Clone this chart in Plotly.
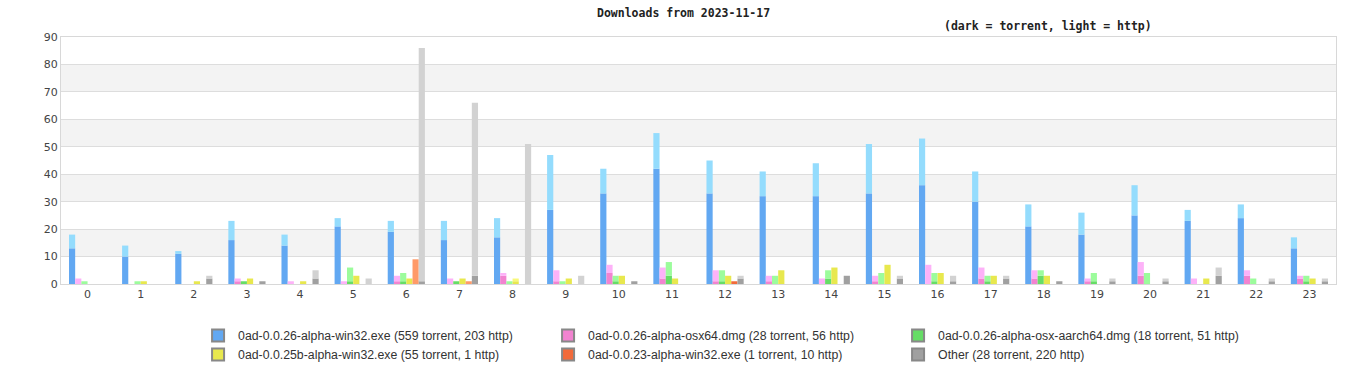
import plotly.graph_objects as go

hours = list(range(24))

files = [
    "0ad-0.0.26-alpha-win32.exe",
    "0ad-0.0.26-alpha-osx64.dmg",
    "0ad-0.0.26-alpha-osx-aarch64.dmg",
    "0ad-0.0.25b-alpha-win32.exe",
    "0ad-0.0.23-alpha-win32.exe",
    "Other",
]

win32_torrent = [13, 10, 11, 16, 14, 21, 19, 16, 17, 27, 33, 42, 33, 32, 32, 33, 36, 30, 21, 18, 25, 23, 24, 13]
win32_total   = [18, 14, 12, 23, 18, 24, 23, 23, 24, 47, 42, 55, 45, 41, 44, 51, 53, 41, 29, 26, 36, 27, 29, 17]

osx64_torrent = [0, 0, 0, 1, 0, 0, 1, 0, 3, 1, 4, 2, 1, 1, 0, 1, 0, 2, 2, 1, 3, 0, 3, 2]
osx64_total   = [2, 0, 0, 2, 1, 1, 3, 2, 4, 5, 7, 6, 5, 3, 2, 3, 7, 6, 5, 2, 8, 2, 5, 3]

aarch64_torrent = [0, 0, 0, 1, 0, 1, 1, 1, 0, 0, 1, 3, 1, 0, 2, 0, 1, 1, 3, 1, 0, 0, 0, 1]
aarch64_total   = [1, 1, 0, 1, 0, 6, 4, 1, 1, 1, 3, 8, 5, 3, 5, 4, 4, 3, 5, 4, 4, 0, 2, 3]

a25b_torrent = [0, 1, 1, 2, 1, 3, 2, 2, 1, 2, 3, 2, 3, 5, 6, 7, 4, 3, 3, 0, 0, 2, 0, 2]
a25b_total   = [0, 1, 1, 2, 1, 3, 2, 2, 2, 2, 3, 2, 3, 5, 6, 7, 4, 3, 3, 0, 0, 2, 0, 2]

a23_torrent = [0, 0, 0, 0, 0, 0, 0, 0, 0, 0, 0, 0, 1, 0, 0, 0, 0, 0, 0, 0, 0, 0, 0, 0]
a23_total   = [0, 0, 0, 0, 0, 0, 9, 1, 0, 0, 0, 0, 1, 0, 0, 0, 0, 0, 0, 0, 0, 0, 0, 0]

other_torrent = [0, 0, 2, 1, 2, 0, 1, 3, 0, 0, 1, 0, 2, 0, 3, 2, 1, 2, 1, 1, 1, 3, 1, 1]
other_total   = [0, 0, 3, 1, 5, 2, 86, 66, 51, 3, 1, 0, 3, 0, 3, 3, 3, 3, 1, 2, 2, 6, 2, 2]

torrent_counts = [559, 28, 18, 55, 1, 28]
http_counts = [203, 56, 51, 1, 10, 220]

title_text = "Downloads from 2023-11-17"
subtitle_text = "(dark = torrent, light = http)"

dark_colors = ["#62a8f2", "#f283d0", "#66dd66", "#e8e84e", "#f26a3a", "#a0a0a0"]
light_colors = ["#94dcfd", "#fdb2f8", "#9cfc9c", "#f8f87a", "#ff9a68", "#d2d2d2"]

torrents = [win32_torrent, osx64_torrent, aarch64_torrent, a25b_torrent, a23_torrent, other_torrent]
totals = [win32_total, osx64_total, aarch64_total, a25b_total, a23_total, other_total]

fig = go.Figure()

for i, name in enumerate(files):
    t = torrents[i]
    h = [tot - tt for tot, tt in zip(totals[i], t)]
    fig.add_trace(go.Bar(
        x=hours, y=t, offsetgroup=str(i), marker_color=dark_colors[i],
        marker_line_width=0, showlegend=False, hoverinfo="skip",
    ))
    fig.add_trace(go.Bar(
        x=hours, y=h, base=t, offsetgroup=str(i), marker_color=light_colors[i],
        marker_line_width=0, showlegend=False, hoverinfo="skip",
    ))

for i, name in enumerate(files):
    fig.add_trace(go.Scatter(
        x=[None], y=[None], mode="markers",
        marker=dict(symbol="square", size=8, color=dark_colors[i],
                    line=dict(color="#888888", width=1)),
        name=f"{name} ({torrent_counts[i]} torrent, {http_counts[i]} http)",
        showlegend=True,
    ))

shapes = []
for lo in [10, 30, 50, 70]:
    shapes.append(dict(type="rect", xref="paper", yref="y", x0=0, x1=1, y0=lo, y1=lo + 10,
                       fillcolor="#f3f3f3", line_width=0, layer="below"))

W, H = 1366, 380
L, R, T, B = 61, 30, 37, 96
pw, ph = W - L - R, H - T - B

fig.update_layout(
    width=W, height=H,
    margin=dict(l=L, r=R, t=T, b=B, autoexpand=False),
    paper_bgcolor="white", plot_bgcolor="white",
    barmode="group", bargap=0.30, bargroupgap=0,
    shapes=shapes,
    font=dict(family="DejaVu Sans", size=11, color="#333"),
    annotations=[
        dict(text="<b>" + title_text + "</b>", xref="paper", yref="paper",
             x=(683 - L) / pw, y=1 + (T - 13) / ph, xanchor="center", yanchor="middle",
             showarrow=False, font=dict(family="DejaVu Sans Mono", size=11.5, color="#222")),
        dict(text="<b>" + subtitle_text + "</b>", xref="paper", yref="paper",
             x=(1048 - L) / pw, y=1 + (T - 26) / ph, xanchor="center", yanchor="middle",
             showarrow=False, font=dict(family="DejaVu Sans Mono", size=11.5, color="#222")),
    ],
    xaxis=dict(type="category", tickmode="array", tickvals=hours, ticktext=[str(h) for h in hours],
               range=[-0.5, 23.5], showgrid=False, showline=True, linecolor="#d8d8d8", mirror=True,
               ticks="", tickfont=dict(size=11, color="#444"), fixedrange=True),
    yaxis=dict(range=[0, 90], dtick=10, showgrid=True, gridcolor="#dddddd", gridwidth=1,
               showline=True, linecolor="#d8d8d8", mirror=True, ticks="", zeroline=False,
               tickfont=dict(size=11, color="#444"), fixedrange=True),
    legend=dict(orientation="h", xref="container", yref="container", x=0.145, y=1 - 345 / H,
                xanchor="left", yanchor="middle", entrywidth=305, entrywidthmode="pixels",
                font=dict(family="Liberation Sans", size=12.3, color="#333"),
                itemsizing="constant", tracegroupgap=0),
)

fig.write_html("out.html", config={"displayModeBar": False},
               post_script="document.body.style.margin='0';document.body.style.overflow='hidden';")
